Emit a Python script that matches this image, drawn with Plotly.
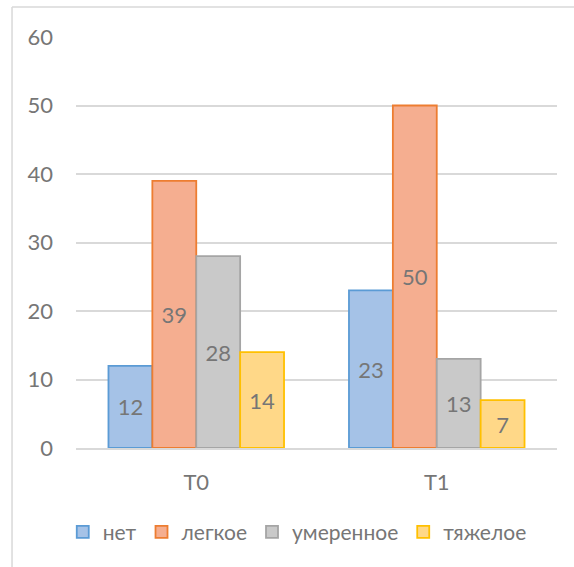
import plotly.graph_objects as go

categories = ["T0", "T1"]
series_names = ["нет", "легкое", "умеренное", "тяжелое"]
values_net = [12, 23]
values_legkoe = [39, 50]
values_umerennoe = [28, 13]
values_tyazheloe = [14, 7]
y_ticks = [0, 10, 20, 30, 40, 50, 60]

fills = ["#a5c2e7", "#f5ae90", "#c9c9c9", "#ffd888"]
borders = ["#5b9bd5", "#ed7d31", "#a5a5a5", "#ffc000"]
all_values = [values_net, values_legkoe, values_umerennoe, values_tyazheloe]

FONT = "Lato"
TXT = "#767676"

fig = go.Figure()
for name, vals, fc, bc in zip(series_names, all_values, fills, borders):
    fig.add_trace(go.Bar(
        name=name, x=categories, y=vals,
        marker=dict(color=fc, line=dict(color=bc, width=1.8)),
        text=[str(v) for v in vals], textposition="inside",
        insidetextanchor="middle", textangle=0,
        textfont=dict(family=FONT, size=22, color=TXT),
    ))

fig.update_layout(
    width=574, height=567,
    margin=dict(l=76, r=17, t=37, b=119),
    paper_bgcolor="white", plot_bgcolor="white",
    barmode="group", bargap=0.27, bargroupgap=0,
    font=dict(family=FONT, size=22, color=TXT),
    showlegend=True,
    legend=dict(orientation="h", x=0.46, xanchor="center", y=-0.205, yanchor="middle",
                font=dict(family=FONT, size=21, color=TXT), itemwidth=30,
                tracegroupgap=0),
    uniformtext=dict(mode="show", minsize=10),
)
fig.update_yaxes(range=[0, 60], tickvals=y_ticks, showgrid=True, gridcolor="#d9d9d9",
                 gridwidth=1.5, zeroline=False, showline=False, ticks="",
                 ticklabelstandoff=22, fixedrange=True)
fig.update_xaxes(showgrid=False, showline=True, linecolor="#d9d9d9", linewidth=1.5,
                 ticks="", ticklabelstandoff=14, fixedrange=True)

# outer chart border (top and left edges visible)
fig.add_shape(type="line", xref="paper", yref="paper", x0=-0.133, x1=1.04,
              y0=1.073, y1=1.073, line=dict(color="#d9d9d9", width=1.5))
fig.add_shape(type="line", xref="paper", yref="paper", x0=-0.133, x1=-0.133,
              y0=1.073, y1=-0.32, line=dict(color="#d9d9d9", width=1.5))

fig.write_html("out.html")
